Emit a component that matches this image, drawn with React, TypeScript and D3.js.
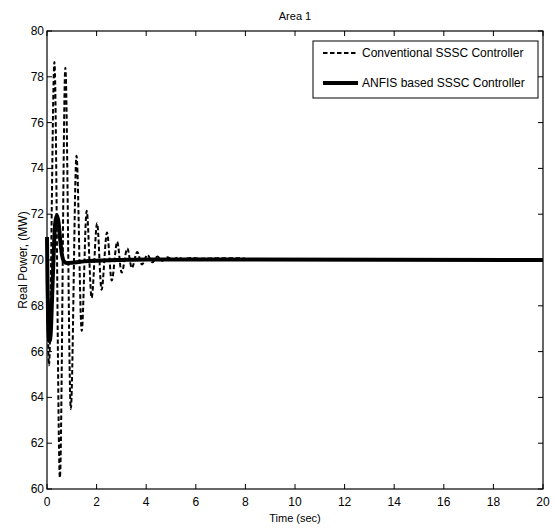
import React from "react";
import * as d3 from "d3";

// tick labels
const timeTicks = [0, 2, 4, 6, 8, 10, 12, 14, 16, 18, 20];
const powerTicks = [60, 62, 64, 66, 68, 70, 72, 74, 76, 78, 80];

const convTime = [
  0, 0.08, 0.3, 0.52, 0.74, 0.96, 1.19, 1.4, 1.6, 1.8, 2.02, 2.2, 2.42, 2.61,
  2.83, 3.01, 3.24, 3.42, 3.64, 3.83, 4.05, 4.25, 4.45, 4.65, 4.85, 5.05, 5.3,
  5.5, 5.8, 6.2, 7.0, 7.95, 8.0, 20,
];
const convPower = [
  70.6, 65.4, 78.65, 60.5, 78.4, 63.5, 74.55, 66.9, 72.15, 68.35, 71.6, 68.7,
  71.2, 69.1, 70.8, 69.45, 70.5, 69.65, 70.35, 69.8, 70.22, 69.9, 70.15, 69.97,
  70.12, 70.02, 70.1, 70.04, 70.09, 70.06, 70.08, 70.07, 70.0, 70.0,
];

// ANFIS based SSSC controller (solid)
const anfisTime = [
  0, 0.02, 0.05, 0.1, 0.15, 0.2, 0.27, 0.33, 0.4, 0.47, 0.53, 0.6, 0.68, 0.8,
  1.0, 1.5, 2.0, 3.0, 4.0, 8.0, 20,
];
const anfisPower = [
  71.0, 69.0, 67.2, 66.45, 66.8, 68.2, 70.3, 71.6, 71.95, 71.6, 70.9, 70.25,
  69.95, 69.87, 69.88, 69.94, 69.97, 70.0, 70.02, 70.02, 70.0,
];

const legendItems = ["Conventional SSSC Controller", "ANFIS based SSSC Controller"];

const W = 555;
const H = 529;
const margin = { top: 31, right: 12, bottom: 40, left: 47 };
const font = "'Liberation Sans', Arial, sans-serif";

const App = () => {
  const x = d3
    .scaleLinear()
    .domain([0, 20])
    .range([margin.left, W - margin.right]);
  const y = d3
    .scaleLinear()
    .domain([60, 80])
    .range([H - margin.bottom, margin.top]);

  const line = d3
    .line<[number, number]>()
    .x((d) => x(d[0]))
    .y((d) => y(d[1]))
    .curve(d3.curveMonotoneX);

  const convPath = line(convTime.map((t, i) => [t, convPower[i]]));
  const anfisPath = line(anfisTime.map((t, i) => [t, anfisPower[i]]));

  const x0 = margin.left;
  const x1 = W - margin.right;
  const y0 = H - margin.bottom;
  const y1 = margin.top;
  const tick = 5;

  return (
    <svg
      width={W}
      height={H}
      style={{ position: "absolute", left: 0, top: 0, background: "#fff" }}
      fontFamily={font}
    >
      <rect x={0} y={0} width={W} height={H} fill="#fff" />
      <path d={convPath || ""} fill="none" stroke="#000" strokeWidth={2} strokeDasharray="4.5,2.5" />
      <path d={anfisPath || ""} fill="none" stroke="#000" strokeWidth={4} />

      {/* box */}
      <rect x={x0} y={y1} width={x1 - x0} height={y0 - y1} fill="none" stroke="#000" strokeWidth={1.2} />

      {timeTicks.map((t) => (
        <g key={"x" + t}>
          <line x1={x(t)} x2={x(t)} y1={y0} y2={y0 - tick} stroke="#000" />
          <line x1={x(t)} x2={x(t)} y1={y1} y2={y1 + tick} stroke="#000" />
          <text x={x(t)} y={506} textAnchor="middle" fontSize={12}>
            {t}
          </text>
        </g>
      ))}
      {powerTicks.map((p) => (
        <g key={"y" + p}>
          <line x1={x0} x2={x0 + tick} y1={y(p)} y2={y(p)} stroke="#000" />
          <line x1={x1} x2={x1 - tick} y1={y(p)} y2={y(p)} stroke="#000" />
          <text x={44} y={y(p) + 4} textAnchor="end" fontSize={12}>
            {p}
          </text>
        </g>
      ))}

      <text x={(x0 + x1) / 2} y={20} textAnchor="middle" fontSize={11}>
        Area 1
      </text>
      <text x={(x0 + x1) / 2} y={522} textAnchor="middle" fontSize={11}>
        Time (sec)
      </text>
      <text
        transform={`translate(27,${(y0 + y1) / 2}) rotate(-90)`}
        textAnchor="middle"
        fontSize={12}
      >
        Real Power, (MW)
      </text>

      {/* legend */}
      <rect x={313} y={41} width={225} height={57} fill="#fff" stroke="#000" strokeWidth={1} />
      {legendItems.map((name, i) => (
        <g key={name} transform={`translate(0,${53 + i * 30})`}>
          <line
            x1={323}
            x2={358}
            y1={0}
            y2={0}
            stroke="#000"
            strokeWidth={i === 0 ? 2 : 4}
            strokeDasharray={i === 0 ? "4.5,2.5" : undefined}
          />
          <text x={362} y={4} fontSize={12}>
            {name}
          </text>
        </g>
      ))}
    </svg>
  );
};

export default App;
